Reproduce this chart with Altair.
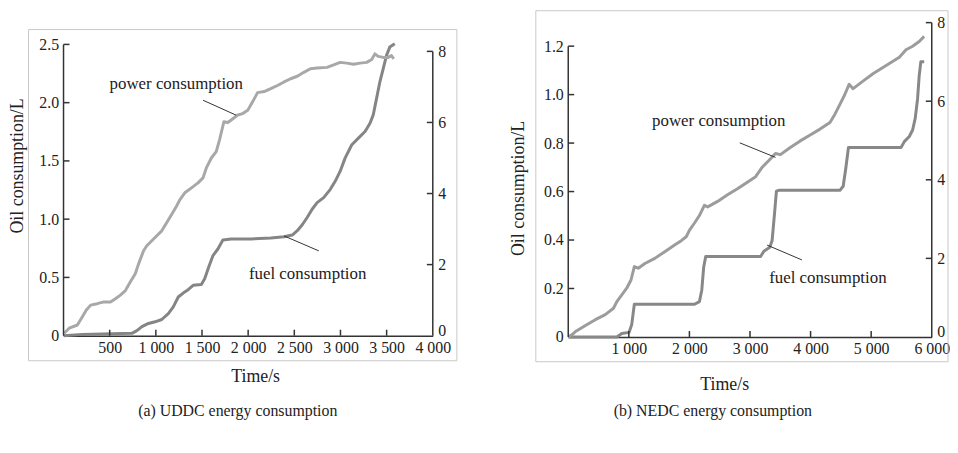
import altair as alt
import pandas as pd

FONT = "Liberation Serif"
INK = "#222222"
AX = "#333333"

# ---------------- (a) UDDC ----------------
uddc_power_t = [7, 61, 150, 204, 247, 294, 365, 437, 508, 562, 616, 670, 723, 777, 813, 867, 902, 956,
                1010, 1064, 1117, 1171, 1225, 1261, 1314, 1386, 1457, 1511, 1547, 1601, 1654, 1690, 1737,
                1780, 1816, 1887, 1941, 1995, 2048, 2102, 2174, 2245, 2317, 2389, 2460, 2532, 2603, 2675,
                2747, 2854, 2926, 2997, 3069, 3141, 3212, 3284, 3338, 3373, 3409, 3463, 3517, 3552, 3577]
uddc_power_v = [0.07, 0.21, 0.30, 0.53, 0.72, 0.86, 0.90, 0.95, 0.95, 1.04, 1.14, 1.27, 1.51, 1.74, 2.02,
                2.39, 2.53, 2.67, 2.81, 2.95, 3.18, 3.41, 3.65, 3.83, 4.02, 4.16, 4.30, 4.44, 4.72, 5.00,
                5.18, 5.51, 6.02, 6.00, 6.07, 6.21, 6.25, 6.34, 6.58, 6.84, 6.87, 6.95, 7.04, 7.14, 7.23,
                7.30, 7.41, 7.51, 7.53, 7.55, 7.62, 7.69, 7.67, 7.64, 7.67, 7.69, 7.77, 7.93, 7.86, 7.83,
                7.83, 7.88, 7.79]
uddc_fuel_t = [0, 204, 741, 795, 849, 920, 992, 1064, 1135, 1189, 1243, 1296, 1350, 1404, 1493, 1529, 1572,
               1619, 1672, 1726, 1816, 2030, 2245, 2389, 2478, 2532, 2586, 2639, 2693, 2747, 2818, 2890,
               2944, 2997, 3051, 3123, 3194, 3266, 3320, 3355, 3391, 3427, 3463, 3499, 3534, 3588]
uddc_fuel_v = [0.0, 0.011, 0.02, 0.043, 0.077, 0.105, 0.119, 0.139, 0.19, 0.247, 0.332, 0.366, 0.395,
               0.432, 0.44, 0.489, 0.588, 0.688, 0.744, 0.821, 0.83, 0.83, 0.838, 0.849, 0.864, 0.901,
               0.952, 1.014, 1.085, 1.142, 1.185, 1.256, 1.327, 1.412, 1.526, 1.639, 1.696, 1.753, 1.824,
               1.895, 2.037, 2.179, 2.293, 2.406, 2.477, 2.506]

# ---------------- (b) NEDC ----------------
nedc_power_t = [0, 65, 120, 284, 447, 611, 747, 802, 884, 965, 1036, 1091, 1156, 1265, 1429, 1593, 1756,
                1865, 1947, 2002, 2084, 2165, 2247, 2302, 2465, 2629, 2793, 2956, 3093, 3202, 3311, 3420,
                3502, 3665, 3829, 3993, 4156, 4320, 4402, 4484, 4565, 4636, 4702, 4865, 5029, 5247, 5465,
                5575, 5684, 5793, 5875]
nedc_power_v = [0.0, 0.06, 0.14, 0.29, 0.44, 0.57, 0.73, 0.90, 1.07, 1.24, 1.45, 1.79, 1.75, 1.87, 2.00,
                2.17, 2.34, 2.45, 2.55, 2.72, 2.90, 3.09, 3.35, 3.31, 3.45, 3.62, 3.77, 3.94, 4.08, 4.32,
                4.49, 4.67, 4.64, 4.82, 4.99, 5.14, 5.29, 5.46, 5.67, 5.92, 6.17, 6.43, 6.32, 6.51, 6.70,
                6.91, 7.12, 7.31, 7.40, 7.52, 7.65]
nedc_fuel_t = [0, 802, 884, 1004, 1047, 1091, 1211, 2084, 2165, 2204, 2236, 2269, 2411, 3175, 3229, 3327,
               3365, 3404, 3436, 3475, 4484, 4538, 4582, 4625, 4756, 5493, 5547, 5629, 5684, 5727, 5766,
               5793, 5820, 5875]
nedc_fuel_v = [0.0, 0.0, 0.014, 0.019, 0.05, 0.135, 0.135, 0.135, 0.146, 0.193, 0.289, 0.332, 0.332,
               0.332, 0.354, 0.37, 0.398, 0.507, 0.602, 0.605, 0.605, 0.622, 0.697, 0.782, 0.782, 0.782,
               0.806, 0.827, 0.854, 0.902, 0.983, 1.079, 1.136, 1.136]

captions = ["(a) UDDC energy consumption", "(b) NEDC energy consumption"]
labels = ["power consumption", "fuel consumption"]


def panel(pt, pv, ft, fv, W, H, xmax, xticks, ltop, lticks, rtop, rticks,
          ann, caption, cap_xy, frame, ytitle_xy, xtitle_xy, pcol, fcol):
    xs = alt.Scale(domain=[0, xmax], nice=False, zero=False)
    ls = alt.Scale(domain=[0, ltop], nice=False, zero=False)
    rs = alt.Scale(domain=[0, rtop], nice=False, zero=False)

    # one shared x axis definition, used by every layer that has an x field
    xax = alt.Axis(values=xticks, labelExpr="replace(format(datum.value, ','), ',', ' ')",
                   title="Time/s", titleX=xtitle_xy[0], titleY=xtitle_xy[1], titleAlign="center",
                   titleBaseline="middle", titleFontWeight="normal", ticks=False,
                   domainColor=AX, domainWidth=1.5, grid=False, labelPadding=4,
                   labelOverlap=False, labelFlush=False, labelBound=False)
    X = lambda f="t:Q": alt.X(f, scale=xs, axis=xax)
    yax = alt.Axis(values=lticks, labelExpr="datum.value == 0 ? '0' : format(datum.value, '.1f')",
                   title="Oil consumption/L", titleX=ytitle_xy[0], titleY=ytitle_xy[1],
                   titleAlign="center", titleBaseline="middle", titleFontWeight="normal",
                   ticks=False, domain=False, grid=False, labelPadding=5, labelOverlap=False,
                   labelFlush=False)

    fuel_df = pd.DataFrame({"t": ft, "v": fv})
    power_df = pd.DataFrame({"t": pt, "v": pv})

    fuel = alt.Chart(fuel_df).mark_line(color=fcol, strokeWidth=3, strokeJoin="round").encode(
        x=X(), y=alt.Y("v:Q", scale=ls, axis=yax), order=alt.Order("t:Q"))

    power = alt.Chart(power_df).mark_line(color=pcol, strokeWidth=3, strokeJoin="round").encode(
        x=X(),
        y=alt.Y("v:Q", scale=rs, axis=alt.Axis(
            orient="right", values=rticks, title="", ticks=False, domain=False, grid=False,
            labelPadding=5, format="d", labelOverlap=False, labelFlush=False,
            labelBaseline={"condition": {"test": "datum.value == 0", "value": "alphabetic"},
                           "value": "middle"})),
        order=alt.Order("t:Q"),
    )

    frame_rect = alt.Chart(pd.DataFrame({"k": [0]})).mark_rect(
        fill="transparent", stroke="#c8c8c8", strokeWidth=1).encode(
        x=alt.value(frame[0]), x2=alt.value(frame[1]), y=alt.value(frame[2]), y2=alt.value(frame[3]))

    left_dom = alt.Chart(pd.DataFrame({"t": [0], "v": [0], "v2": [max(lticks)]})).mark_rule(
        color=AX, strokeWidth=1.5).encode(
        x=X(), y=alt.Y("v:Q", scale=ls, axis=None), y2="v2:Q")
    left_ticks = alt.Chart(pd.DataFrame({"v": [v for v in lticks if v > 0]})).mark_rule(
        color=AX, strokeWidth=1.5).encode(
        y=alt.Y("v:Q", scale=ls, axis=None), x=alt.value(0), x2=alt.value(6))
    x_ticks = alt.Chart(pd.DataFrame({"t": [t for t in xticks if t < xmax]})).mark_rule(
        color=AX, strokeWidth=1.5).encode(
        x=X(), y=alt.value(H - 6), y2=alt.value(H))

    ann_df = pd.DataFrame({"t": [a[0] for a in ann], "v": [a[1] for a in ann], "label": labels})
    ann_text = alt.Chart(ann_df).mark_text(font=FONT, fontSize=17, color=INK, align="center",
                                           baseline="middle").encode(
        x=X(), y=alt.Y("v:Q", scale=ls, axis=None), text="label:N")
    lead_df = pd.DataFrame({"t": [a[2] for a in ann], "v": [a[3] for a in ann],
                            "t2": [a[4] for a in ann], "v2": [a[5] for a in ann]})
    leaders = alt.Chart(lead_df).mark_rule(color="#333333", strokeWidth=1).encode(
        x=X(), y=alt.Y("v:Q", scale=ls, axis=None), x2="t2:Q", y2="v2:Q")

    cap = alt.Chart(pd.DataFrame({"c": [caption]})).mark_text(
        font=FONT, fontSize=16, color=INK, align="center", baseline="middle").encode(
        x=alt.value(cap_xy[0]), y=alt.value(cap_xy[1]), text="c:N")

    right_dom = alt.Chart(pd.DataFrame({"t": [xmax], "v": [0], "v2": [max(rticks)]})).mark_rule(
        color=AX, strokeWidth=1.5).encode(
        x=X(), y=alt.Y("v:Q", scale=rs, axis=None), y2="v2:Q")
    right_ticks = alt.Chart(pd.DataFrame({"v": [v for v in rticks if v > 0]})).mark_rule(
        color=AX, strokeWidth=1.5).encode(
        y=alt.Y("v:Q", scale=rs, axis=None), x=alt.value(W - 6), x2=alt.value(W))

    return alt.layer(fuel, power, frame_rect, left_dom, left_ticks, x_ticks, leaders, ann_text, cap,
                     right_dom, right_ticks).resolve_scale(y="independent").properties(
        width=W, height=H)


pa = panel(uddc_power_t, uddc_power_v, uddc_fuel_t, uddc_fuel_v,
           W=372.4, H=315.7, xmax=4000, xticks=[500, 1000, 1500, 2000, 2500, 3000, 3500, 4000],
           ltop=2.687, lticks=[0, 0.5, 1.0, 1.5, 2.0, 2.5], rtop=8.809, rticks=[0, 2, 4, 6, 8],
           ann=[(1221, 2.16, 1511, 2.021, 1869, 1.893), (2644, 0.525, 2389, 0.856, 2765, 0.728)],
           caption=captions[0], cap_xy=(175.7, 392), frame=(-35.3, 396.7, 7, 341),
           ytitle_xy=(-46.5, 144), xtitle_xy=(193.2, 40.8), pcol="#a8a8a8", fcol="#858585")

pb = panel(nedc_power_t, nedc_power_v, nedc_fuel_t, nedc_fuel_v,
           W=366.6, H=317, xmax=6000, xticks=[1000, 2000, 3000, 4000, 5000, 6000],
           ltop=1.297, lticks=[0, 0.2, 0.4, 0.6, 0.8, 1.0, 1.2], rtop=8, rticks=[0, 2, 4, 6, 8],
           ann=[(2484, 0.892, 2831, 0.801, 3421, 0.741), (4285, 0.243, 3283, 0.379, 3856, 0.318)],
           caption=captions[1], cap_xy=(145.8, 392), frame=(-32.7, 383, -12, 342),
           ytitle_xy=(-49.7, 166.7), xtitle_xy=(157.3, 47.5), pcol="#9c9c9c", fcol="#888888")

chart = alt.hconcat(pa, pb, spacing=136, bounds="flush").properties(
    padding={"left": 0, "top": 0, "right": 0, "bottom": 0}, background="white"
).configure_view(strokeWidth=0).configure_axis(
    labelFont=FONT, labelFontSize=16, labelColor=INK, titleFont=FONT, titleFontSize=18,
    titleFontWeight="normal", titleColor=INK)

chart.save("out.html", embed_options={"renderer": "svg", "actions": False})
